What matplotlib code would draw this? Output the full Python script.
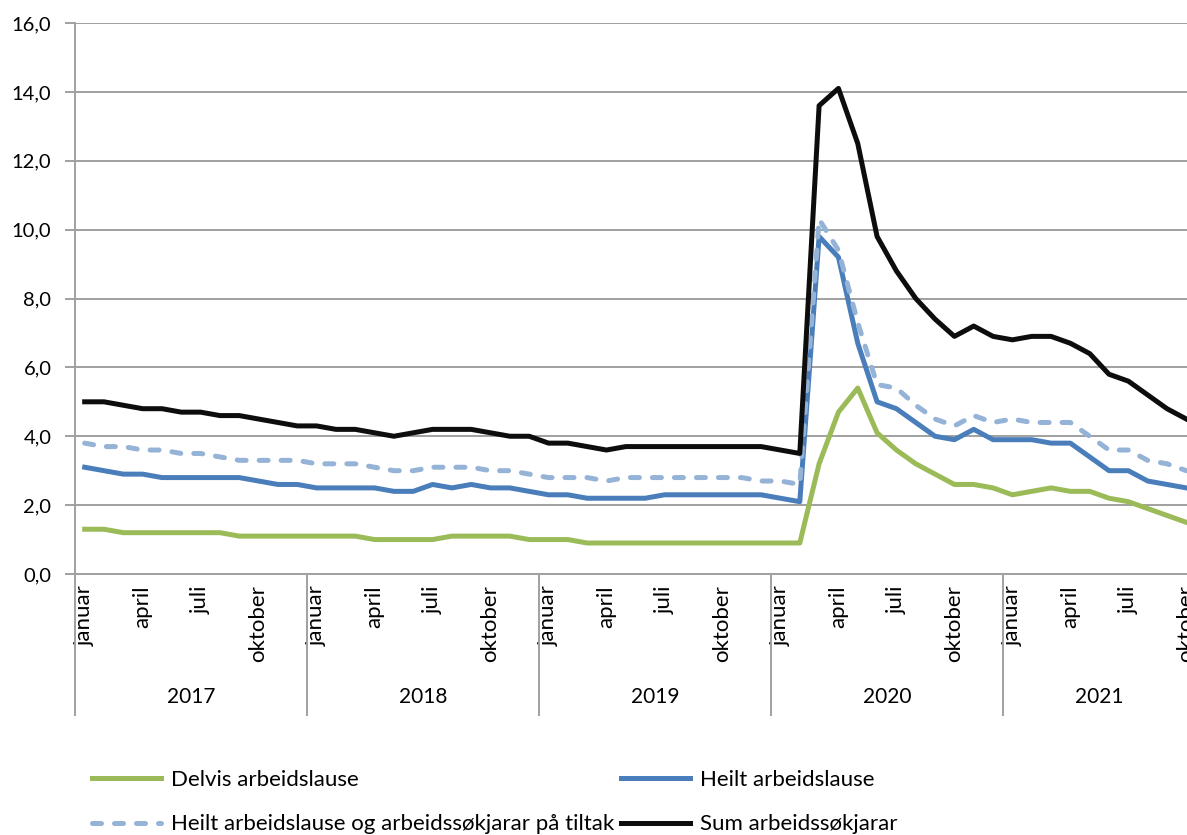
import matplotlib.pyplot as plt

plt.rcParams['font.family'] = ['Lato', 'DejaVu Sans']

# Månadlege tal, januar 2017 - oktober 2021 (prosent)
years = ['2017', '2018', '2019', '2020', '2021']
months_per_year = [12, 12, 12, 12, 10]
month_labels = ['januar', 'april', 'juli', 'oktober']

delvis = [1.3, 1.3, 1.2, 1.2, 1.2, 1.2, 1.2, 1.2, 1.1, 1.1, 1.1, 1.1,
          1.1, 1.1, 1.1, 1.0, 1.0, 1.0, 1.0, 1.1, 1.1, 1.1, 1.1, 1.0,
          1.0, 1.0, 0.9, 0.9, 0.9, 0.9, 0.9, 0.9, 0.9, 0.9, 0.9, 0.9,
          0.9, 0.9, 3.2, 4.7, 5.4, 4.1, 3.6, 3.2, 2.9, 2.6, 2.6, 2.5,
          2.3, 2.4, 2.5, 2.4, 2.4, 2.2, 2.1, 1.9, 1.7, 1.5]

heilt = [3.1, 3.0, 2.9, 2.9, 2.8, 2.8, 2.8, 2.8, 2.8, 2.7, 2.6, 2.6,
         2.5, 2.5, 2.5, 2.5, 2.4, 2.4, 2.6, 2.5, 2.6, 2.5, 2.5, 2.4,
         2.3, 2.3, 2.2, 2.2, 2.2, 2.2, 2.3, 2.3, 2.3, 2.3, 2.3, 2.3,
         2.2, 2.1, 9.8, 9.2, 6.7, 5.0, 4.8, 4.4, 4.0, 3.9, 4.2, 3.9,
         3.9, 3.9, 3.8, 3.8, 3.4, 3.0, 3.0, 2.7, 2.6, 2.5]

heilt_tiltak = [3.8, 3.7, 3.7, 3.6, 3.6, 3.5, 3.5, 3.4, 3.3, 3.3, 3.3, 3.3,
                3.2, 3.2, 3.2, 3.1, 3.0, 3.0, 3.1, 3.1, 3.1, 3.0, 3.0, 2.9,
                2.8, 2.8, 2.8, 2.7, 2.8, 2.8, 2.8, 2.8, 2.8, 2.8, 2.8, 2.7,
                2.7, 2.6, 10.3, 9.4, 7.3, 5.5, 5.4, 4.9, 4.5, 4.3, 4.6, 4.4,
                4.5, 4.4, 4.4, 4.4, 4.0, 3.6, 3.6, 3.3, 3.2, 3.0]

sum_sokjarar = [5.0, 5.0, 4.9, 4.8, 4.8, 4.7, 4.7, 4.6, 4.6, 4.5, 4.4, 4.3,
                4.3, 4.2, 4.2, 4.1, 4.0, 4.1, 4.2, 4.2, 4.2, 4.1, 4.0, 4.0,
                3.8, 3.8, 3.7, 3.6, 3.7, 3.7, 3.7, 3.7, 3.7, 3.7, 3.7, 3.7,
                3.6, 3.5, 13.6, 14.1, 12.5, 9.8, 8.8, 8.0, 7.4, 6.9, 7.2, 6.9,
                6.8, 6.9, 6.9, 6.7, 6.4, 5.8, 5.6, 5.2, 4.8, 4.5]

n = len(sum_sokjarar)
x = [i + 0.5 for i in range(n)]

grey = '#a0a0a0'
lw = 3.6

fig = plt.figure(figsize=(11.87, 8.35), dpi=100)
ax = fig.add_axes([75 / 1187, 1 - 574 / 835, (1196 - 75) / 1187, 551 / 835])

l_delvis, = ax.plot(x, delvis, color='#9bbb59', lw=lw)
l_heilt, = ax.plot(x, heilt, color='#4a7ebb', lw=lw)
l_tiltak, = ax.plot(x, heilt_tiltak, color='#95b3d7', lw=lw,
                    linestyle=(0, (1.8, 2.6)), dash_capstyle='round')
l_sum, = ax.plot(x, sum_sokjarar, color='#0d0d0d', lw=lw)

ax.set_xlim(0, n)
ax.set_ylim(0, 16)
ax.set_yticks(range(0, 17, 2))
ax.set_yticklabels([f'{v:.1f}'.replace('.', ',') for v in range(0, 17, 2)], fontsize=14.5)
ax.tick_params(axis='y', length=7, width=1.4, color=grey, pad=10)
ax.yaxis.grid(True, color=grey, lw=1.4)
ax.set_axisbelow(True)

for s in ['top', 'right']:
    ax.spines[s].set_visible(False)
ax.spines['left'].set_color(grey)
ax.spines['left'].set_linewidth(1.4)
ax.spines['bottom'].set_color(grey)
ax.spines['bottom'].set_linewidth(1.4)

# månadsetikettar
tick_pos, tick_lab = [], []
start = 0
for y, m in zip(years, months_per_year):
    for k, lab in enumerate(month_labels):
        idx = start + 3 * k
        if idx < n:
            tick_pos.append(idx + 0.5)
            tick_lab.append(lab)
    start += m
ax.set_xticks(tick_pos)
ax.set_xticklabels(tick_lab, rotation=90, fontsize=16)
ax.tick_params(axis='x', length=0, pad=8)

# årsetikettar og skiljeliner
tr = ax.get_xaxis_transform()
start = 0
for y, m in zip(years, months_per_year):
    ax.plot([start, start], [0, -0.256], color=grey, lw=1.4, transform=tr, clip_on=False)
    ax.text(start + m / 2, -0.223, y, transform=tr, ha='center', va='center', fontsize=15)
    start += m

handles = [l_delvis, l_tiltak, l_heilt, l_sum]
labels = ['Delvis arbeidslause', 'Heilt arbeidslause og arbeidssøkjarar på tiltak',
          'Heilt arbeidslause', 'Sum arbeidssøkjarar']
fig.legend(handles, labels, ncol=2, loc='upper left', bbox_to_anchor=(72 / 1187, 1 - 750 / 835),
           frameon=False, fontsize=16, handlelength=3.1, handletextpad=0.45,
           columnspacing=0.3, labelspacing=1.1)

fig.savefig('out.png', dpi=100)
